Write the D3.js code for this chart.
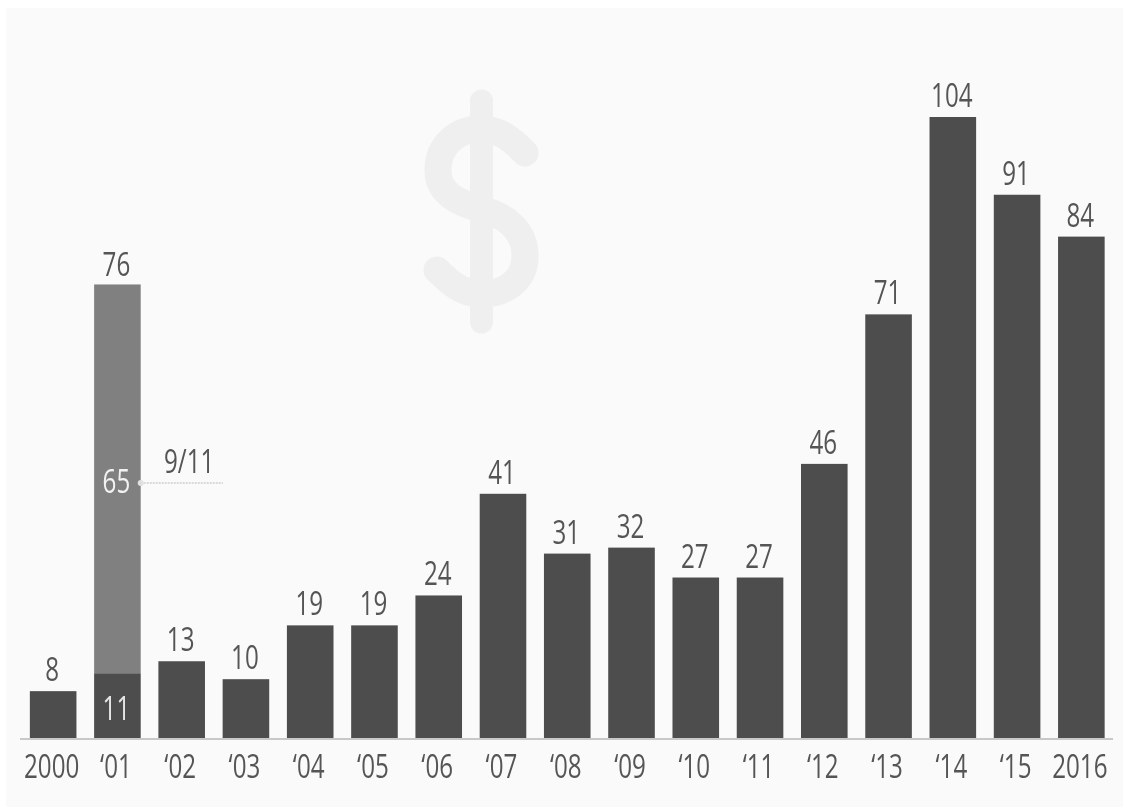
<!DOCTYPE html>
<html>
<head>
<meta charset="utf-8">
<script src="https://cdn.jsdelivr.net/npm/d3@7"></script>
<style>
  html, body { margin: 0; padding: 0; background: #fff; }
  svg { display: block; filter: blur(0.5px); }
  text { font-family: "Open Sans", sans-serif; }
</style>
</head>
<body>
<svg id="chart" width="1129" height="807"></svg>
<script>
const years = ["2000", "‘01", "‘02", "‘03", "‘04", "‘05", "‘06", "‘07", "‘08", "‘09", "‘10", "‘11", "‘12", "‘13", "‘14", "‘15", "2016"];
const values = [8, 11, 13, 10, 19, 19, 24, 41, 31, 32, 27, 27, 46, 71, 104, 91, 84];
const extraYear = "‘01";
const extraValue = 65;
const extraLabel = "9/11";

const svg = d3.select("#chart");
const base = 739;
const textColor = "#555";

svg.append("rect").attr("x", 6).attr("y", 8).attr("width", 1117).attr("height", 799).attr("fill", "#fafafa");

const x = d3.scaleBand().domain(years).range([21.5, 1113]).paddingInner(0.275).paddingOuter(0.13);
const y = d3.scaleLinear().domain([0, 104]).range([base, 117]);

// text in the original is squeezed and tall, so stretch it
function addLabel(px, py, str, color, anchor = "middle") {
  svg.append("text")
    .attr("transform", `translate(${px},${py}) scale(0.93,1.26)`)
    .attr("text-anchor", anchor)
    .attr("font-size", 26)
    .attr("fill", color)
    .text(str);
}

// dollar watermark
svg.append("path")
  .attr("d", "M525,153C510,137 497,129 481,129C456,129 438,146 438,170C438,193 457,203 481,209C508,216 525,232 525,256C525,280 506,294 481,294C463,294 450,283 437,270")
  .attr("fill", "none")
  .attr("stroke", "#efefef")
  .attr("stroke-width", 27)
  .attr("stroke-linecap", "round");
svg.append("line")
  .attr("x1", 481.5).attr("x2", 481.5)
  .attr("y1", 101).attr("y2", 322)
  .attr("stroke", "#efefef")
  .attr("stroke-width", 23)
  .attr("stroke-linecap", "round");

svg.selectAll("rect.bar")
  .data(years)
  .enter()
  .append("rect")
  .attr("class", "bar")
  .attr("x", d => x(d))
  .attr("y", (d, i) => y(values[i]))
  .attr("width", x.bandwidth())
  .attr("height", (d, i) => y(0) - y(values[i]))
  .attr("fill", "#4d4d4d");

// 9/11 part of the 2001 bar
const i01 = years.indexOf(extraYear);
const total01 = values[i01] + extraValue;
svg.append("rect")
  .attr("x", x(extraYear))
  .attr("y", y(total01))
  .attr("width", x.bandwidth())
  .attr("height", y(values[i01]) - y(total01))
  .attr("fill", "#808080");

// value labels
years.forEach((d, i) => {
  const v = d === extraYear ? total01 : values[i];
  const gap = d === extraYear ? 8 : 10;
  addLabel(x(d) + x.bandwidth() / 2 - 1, y(v) - gap, v, textColor);
});

// labels inside the 2001 bar
const cx01 = x(extraYear) + x.bandwidth() / 2;
addLabel(cx01 - 1, 720, values[i01], "#e6e6e6");
addLabel(cx01 - 1, 493, extraValue, "#f2f2f2");

// 9/11 callout
svg.append("line")
  .attr("x1", x(extraYear) + x.bandwidth()).attr("x2", 223)
  .attr("y1", 483).attr("y2", 483)
  .attr("stroke", "#d9d9d9").attr("stroke-width", 2).attr("stroke-dasharray", "2,1");
svg.append("circle").attr("cx", x(extraYear) + x.bandwidth()).attr("cy", 483).attr("r", 3)
  .attr("fill", "#e0e0e0");
addLabel(164, 473, extraLabel, textColor, "start");

// axis
const axis = svg.append("g")
  .attr("transform", `translate(0,${base})`)
  .call(d3.axisBottom(x).tickSize(0).tickFormat(""));
axis.select(".domain").attr("stroke", "#c8c8c8").attr("stroke-width", 2).attr("d", "M20,0H1113");
axis.selectAll(".tick text").remove();
years.forEach(d => addLabel(x(d) + x.bandwidth() / 2 - 1.5, 778, d, textColor));
</script>
</body>
</html>
